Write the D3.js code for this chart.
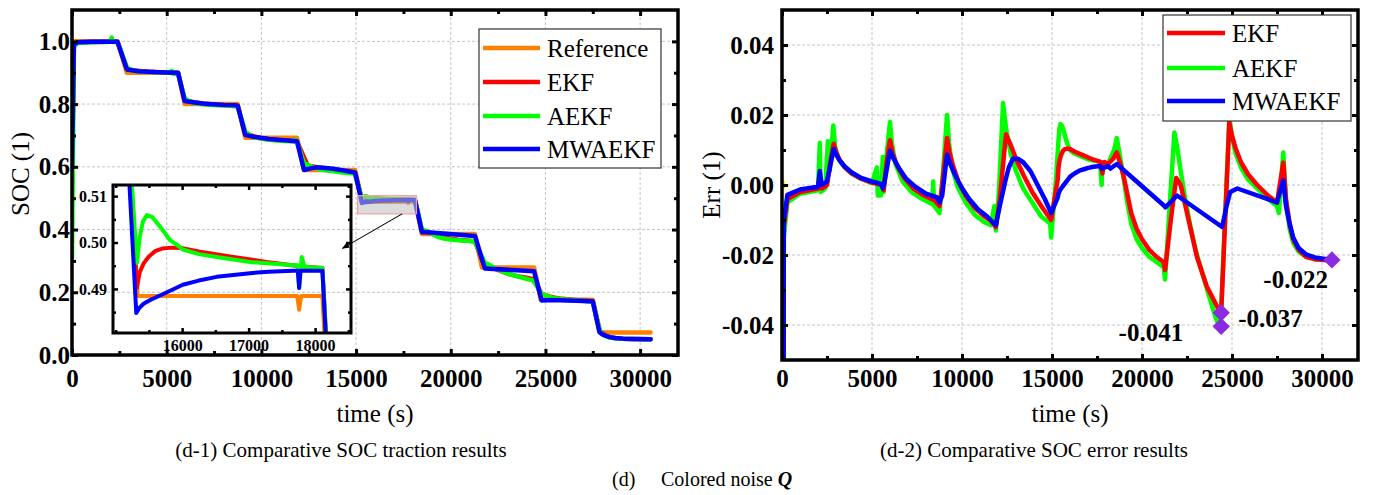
<!DOCTYPE html>
<html><head><meta charset="utf-8">
<script src="https://cdn.jsdelivr.net/npm/d3@7"></script>
<style>
body{margin:0;background:#fff;}
svg text{font-family:"Liberation Serif","Times New Roman",serif;fill:#000;}
</style>
</head><body>
<svg id="c" width="1374" height="495"></svg>
<script>
// ---------------- DATA ----------------
const timeTicks = [0, 5000, 10000, 15000, 20000, 25000, 30000];
const timeMinorTicks = [2500, 7500, 12500, 17500, 22500, 27500];
const socTicks = [0, 0.2, 0.4, 0.6, 0.8, 1.0];
const socTickLabels = ["0.0", "0.2", "0.4", "0.6", "0.8", "1.0"];
const socMinorTicks = [0.1, 0.3, 0.5, 0.7, 0.9];
const errTicks = [-0.04, -0.02, 0, 0.02, 0.04];
const errTickLabels = ["-0.04", "-0.02", "0.00", "0.02", "0.04"];
const errMinorTicks = [-0.03, -0.01, 0.01, 0.03];
const insetXTicks = [16000, 17000, 18000];
const insetXMinorTicks = [15000, 15500, 16500, 17500, 18500];
const insetYTicks = [0.49, 0.50, 0.51];
const insetYTickLabels = ["0.49", "0.50", "0.51"];
const insetYMinorTicks = [0.485, 0.495, 0.505];

const socSeriesNames = ["Reference", "EKF", "AEKF", "MWAEKF"];
const errSeriesNames = ["EKF", "AEKF", "MWAEKF"];

// SOC traction results [time (s), SOC]
const refSOC = [[0,1.0],[2400,1.0],[2900,0.9],[5600,0.9],[5950,0.8],[8750,0.8],[9150,0.693],[11880,0.693],[12250,0.59],[14950,0.59],[15330,0.4885],[17730,0.4885],[17760,0.4855],[17790,0.4885],[18110,0.4885],[18480,0.386],[21280,0.386],[21650,0.279],[24400,0.279],[24750,0.176],[27500,0.176],[27900,0.072],[30550,0.072]];
const ekfSOC = [[0,0.55],[100,0.988],[300,0.996],[1000,0.998],[2000,0.999],[2400,0.9995],[2900,0.9118],[3300,0.907],[4000,0.903],[5000,0.9005],[5600,0.8995],[5950,0.8128],[6400,0.806],[7000,0.801],[7600,0.798],[8400,0.7955],[8750,0.794],[9150,0.7064],[9500,0.699],[10000,0.691],[10500,0.687],[11000,0.6845],[11600,0.6825],[11880,0.681],[12440,0.6045],[13000,0.598],[13500,0.593],[14000,0.588],[14500,0.584],[14950,0.580],[15320,0.4902],[15360,0.4935],[15420,0.4955],[15500,0.4970],[15600,0.4982],[15700,0.4987],[15850,0.4989],[16000,0.4988],[16270,0.498],[16770,0.4969],[17270,0.4958],[17770,0.4949],[18110,0.4945],[18480,0.3953],[19000,0.388],[19400,0.378],[20000,0.3705],[20400,0.3675],[21000,0.3645],[21280,0.3617],[21800,0.281],[22150,0.279],[22500,0.271],[23050,0.2585],[23600,0.250],[24200,0.244],[24400,0.2425],[24800,0.1938],[25200,0.1865],[25500,0.1825],[25900,0.179],[26400,0.176],[27000,0.173],[27500,0.171],[27850,0.0784],[28200,0.061],[28400,0.0565],[28700,0.0535],[29100,0.0515],[29600,0.0508],[30550,0.0504]];
const aekfSOC = [[0,0.31],[100,0.985],[300,0.995],[1000,0.9975],[2000,0.9985],[2100,1.012],[2150,0.998],[2400,0.999],[2900,0.917],[3100,0.908],[3500,0.9045],[4000,0.902],[5000,0.9005],[5270,0.905],[5320,0.897],[5600,0.897],[5950,0.818],[6300,0.806],[6700,0.801],[7200,0.798],[7800,0.796],[8350,0.7945],[8750,0.792],[9150,0.713],[9450,0.698],[9750,0.6925],[10200,0.688],[10700,0.6845],[11200,0.6825],[11600,0.6815],[11800,0.687],[11880,0.680],[12250,0.6134],[12450,0.606],[12700,0.599],[13000,0.594],[13400,0.589],[13900,0.585],[14400,0.581],[14900,0.579],[14950,0.575],[15210,0.52],[15320,0.4956],[15360,0.5010],[15410,0.5045],[15470,0.5059],[15550,0.5055],[15670,0.5034],[15820,0.5005],[15950,0.4992],[16010,0.4985],[16250,0.4975],[16520,0.4969],[17020,0.4958],[17670,0.4951],[17740,0.4951],[17760,0.4902],[17800,0.4969],[17840,0.4948],[18110,0.4945],[18480,0.3994],[18750,0.395],[18950,0.389],[19150,0.382],[19400,0.375],[19700,0.3705],[20000,0.368],[20400,0.3655],[20800,0.364],[21200,0.3625],[21280,0.359],[21800,0.294],[21950,0.290],[22150,0.283],[22400,0.275],[22700,0.267],[23000,0.260],[23400,0.253],[23800,0.246],[24100,0.241],[24350,0.238],[24800,0.195],[25000,0.190],[25200,0.185],[25500,0.181],[25900,0.1775],[26400,0.175],[27000,0.172],[27500,0.170],[27850,0.0813],[28000,0.067],[28200,0.0595],[28400,0.0555],[28700,0.053],[29100,0.0515],[29600,0.0508],[30550,0.0504]];
const mwaekfSOC = [[0,0.60],[100,0.99],[300,0.997],[1000,0.9985],[2000,0.999],[2400,0.999],[2900,0.910],[3500,0.905],[4400,0.902],[5000,0.901],[5600,0.900],[5950,0.8098],[6200,0.8075],[6500,0.8048],[6900,0.8018],[7400,0.7995],[8000,0.7975],[8600,0.7965],[8750,0.795],[9150,0.7017],[9350,0.699],[9600,0.696],[9950,0.6925],[10400,0.689],[10900,0.686],[11400,0.684],[11880,0.6815],[12250,0.59],[12600,0.595],[12830,0.5975],[13100,0.5975],[13400,0.5965],[13800,0.594],[14200,0.590],[14600,0.586],[14950,0.582],[15310,0.4848],[15350,0.4858],[15420,0.4868],[15520,0.4876],[15700,0.4888],[16010,0.4909],[16250,0.4918],[16520,0.4926],[16770,0.4930],[17020,0.4934],[17300,0.4937],[17670,0.4939],[17740,0.4939],[17760,0.4902],[17780,0.4939],[18110,0.4939],[18480,0.3915],[18600,0.392],[21280,0.3796],[21800,0.276],[24400,0.267],[24800,0.174],[25300,0.175],[27500,0.171],[27850,0.073],[28000,0.066],[28200,0.061],[28400,0.057],[28700,0.054],[29100,0.0522],[29600,0.0513],[30550,0.0506]];

// SOC error results [time (s), error]
const ekfErr = [[0,-0.45],[100,-0.012],[300,-0.004],[1000,-0.002],[2000,-0.001],[2100,0.002],[2200,-0.001],[2500,0.0],[2700,0.007],[2870,0.0118],[3000,0.0095],[3200,0.0072],[3500,0.005],[3900,0.0032],[4400,0.0018],[5000,0.0007],[5550,0.0],[5650,-0.0015],[5800,0.006],[6000,0.0128],[6150,0.009],[6400,0.0055],[6800,0.002],[7300,-0.001],[7900,-0.003],[8500,-0.0045],[8750,-0.006],[8900,0.0],[9170,0.0134],[9300,0.0095],[9500,0.0055],[9800,0.001],[10200,-0.003],[10700,-0.0065],[11200,-0.0088],[11600,-0.0102],[11880,-0.012],[12100,-0.004],[12440,0.0145],[12700,0.0115],[13000,0.0075],[13400,0.003],[13900,-0.002],[14400,-0.006],[14950,-0.010],[15320,0.0017],[15360,0.005],[15420,0.007],[15500,0.0085],[15600,0.0097],[15700,0.0102],[15850,0.0104],[16000,0.0103],[16270,0.0095],[16770,0.0084],[17270,0.0073],[17700,0.0066],[17800,0.0033],[17900,0.0066],[18110,0.006],[18400,0.0075],[18600,0.0093],[18800,0.006],[19000,0.002],[19200,-0.003],[19400,-0.008],[19700,-0.0125],[20000,-0.0155],[20400,-0.0185],[20800,-0.0205],[21200,-0.022],[21280,-0.0243],[21600,-0.01],[21900,0.002],[22150,0.0],[22500,-0.008],[23050,-0.0205],[23600,-0.029],[24200,-0.035],[24400,-0.0365],[24850,0.0178],[25000,0.014],[25200,0.0105],[25500,0.0065],[25900,0.003],[26400,0.0],[27000,-0.003],[27500,-0.005],[27850,0.0064],[28000,-0.004],[28200,-0.011],[28400,-0.0155],[28700,-0.0185],[29100,-0.0205],[29600,-0.0212],[30550,-0.0216]];
const aekfErr = [[0,-0.69],[100,-0.015],[300,-0.005],[1000,-0.0025],[2000,-0.0015],[2100,0.012],[2150,-0.002],[2400,-0.001],[2550,0.0125],[2650,0.004],[2850,0.017],[2950,0.011],[3100,0.008],[3400,0.0055],[3800,0.0035],[4400,0.0018],[5000,0.0005],[5270,0.005],[5320,-0.003],[5500,-0.003],[5600,0.008],[5650,-0.002],[5800,0.008],[6000,0.018],[6100,0.012],[6300,0.006],[6700,0.001],[7200,-0.002],[7800,-0.004],[8350,-0.0055],[8400,0.001],[8450,-0.006],[8750,-0.008],[8950,0.004],[9170,0.020],[9280,0.012],[9450,0.005],[9750,-0.0005],[10200,-0.005],[10700,-0.0085],[11200,-0.0105],[11600,-0.0115],[11800,-0.006],[11880,-0.013],[12050,-0.002],[12280,0.0234],[12450,0.016],[12700,0.009],[13000,0.004],[13400,-0.001],[13900,-0.005],[14400,-0.009],[14900,-0.011],[14950,-0.015],[15200,0.0],[15360,0.0125],[15410,0.016],[15470,0.0174],[15550,0.017],[15650,0.0155],[15750,0.0135],[15850,0.0118],[16010,0.0099],[16250,0.009],[16520,0.0084],[17020,0.0073],[17670,0.0066],[17760,0.0],[17800,0.006],[18110,0.006],[18450,0.01],[18600,0.0134],[18750,0.009],[18950,0.003],[19150,-0.004],[19400,-0.011],[19700,-0.0155],[20000,-0.018],[20400,-0.0205],[20800,-0.022],[21200,-0.0235],[21280,-0.027],[21550,-0.005],[21800,0.015],[21950,0.011],[22150,0.004],[22400,-0.004],[22700,-0.012],[23000,-0.019],[23400,-0.026],[23800,-0.033],[24100,-0.038],[24350,-0.041],[24850,0.019],[25000,0.014],[25200,0.009],[25500,0.005],[25900,0.0015],[26400,-0.001],[27000,-0.004],[27500,-0.006],[27600,-0.008],[27850,0.0093],[28000,-0.005],[28200,-0.0125],[28400,-0.0165],[28700,-0.019],[29100,-0.0205],[29600,-0.0212],[30550,-0.0216]];
const mwaekfErr = [[0,-0.40],[100,-0.010],[300,-0.0028],[1000,-0.0013],[2000,-0.0005],[2100,0.004],[2200,0.0],[2500,0.001],[2700,0.006],[2870,0.0103],[3000,0.0088],[3200,0.007],[3500,0.0052],[3900,0.0035],[4400,0.002],[5000,0.001],[5500,0.0003],[5600,-0.001],[5700,0.001],[6000,0.0098],[6200,0.0075],[6500,0.0048],[6900,0.0018],[7400,-0.0005],[8000,-0.0025],[8600,-0.0035],[8750,-0.005],[8900,-0.003],[9170,0.0087],[9350,0.006],[9600,0.003],[9950,-0.0005],[10400,-0.004],[10900,-0.007],[11400,-0.009],[11880,-0.0115],[12100,-0.006],[12400,0.001],[12600,0.005],[12830,0.0075],[13100,0.0075],[13400,0.0065],[13800,0.004],[14200,0.0],[14600,-0.004],[14950,-0.008],[15310,-0.0037],[15350,-0.0027],[15420,-0.0017],[15520,-0.0009],[15700,0.0003],[16010,0.0024],[16250,0.0033],[16520,0.0041],[16770,0.0045],[17020,0.0049],[17300,0.0052],[17670,0.0054],[17760,0.0047],[18110,0.0054],[18250,0.0047],[18600,0.006],[21200,-0.0058],[21300,-0.0064],[21950,-0.003],[24450,-0.012],[24700,-0.006],[24900,-0.002],[25300,-0.001],[27500,-0.005],[27850,0.0013],[28000,-0.006],[28200,-0.011],[28400,-0.015],[28700,-0.018],[29100,-0.0198],[29600,-0.0207],[30550,-0.0214]];
const startMarker = [[0, 0]];

// highlighted zoom window on the SOC plot [t0, t1, soc0, soc1]
const zoomWindow = [15080, 18190, 0.450, 0.508];

// annotated error values
const annotTimes = [24400, 24400, 30550];
const annotValues = [-0.0365, -0.0404, -0.0214];
const annotLabels = ["-0.037", "-0.041", "-0.022"];

// ---------------- DRAW ----------------
const svg = d3.select("#c");
const FONT = '"Liberation Serif","Times New Roman",serif';
const seriesColor = {"Reference":"#ff8000","EKF":"#ff0000","AEKF":"#00ff00","MWAEKF":"#0000ff"};

function grid(g, x, y, xt, yt) {
  const [x0, x1] = x.range(), [y0, y1] = y.range();
  const gg = g.append("g");
  gg.selectAll(".gx").data(xt).join("line")
    .attr("x1", d => x(d)).attr("x2", d => x(d)).attr("y1", y0).attr("y2", y1)
    .attr("stroke", "#c4c4c4").attr("stroke-width", 1).attr("stroke-dasharray", "3,2");
  gg.selectAll(".gy").data(yt).join("line")
    .attr("y1", d => y(d)).attr("y2", d => y(d)).attr("x1", x0).attr("x2", x1)
    .attr("stroke", "#c4c4c4").attr("stroke-width", 1).attr("stroke-dasharray", "3,2");
}

function frame(g, x, y, o) {
  const [x0, x1] = x.range(), [y0, y1] = y.range();
  const W = x1 - x0, H = y0 - y1;
  const tickStyle = s => { s.select(".domain").remove(); s.selectAll(".tick line").attr("stroke", "#000").attr("stroke-width", o.tw); };
  const lab = s => s.attr("font-family", FONT).attr("font-size", o.fs).attr("font-weight", "bold");
  g.append("g").attr("transform", `translate(0,${y0})`)
    .call(d3.axisBottom(x).tickValues(o.xt).tickSize(-o.maj).tickPadding(o.xpad).tickFormat(o.xf))
    .call(tickStyle).call(lab);
  g.append("g").attr("transform", `translate(0,${y0})`)
    .call(d3.axisBottom(x).tickValues(o.xm).tickSize(-o.min).tickFormat("")).call(tickStyle);
  g.append("g").attr("transform", `translate(0,${y1})`)
    .call(d3.axisTop(x).tickValues(o.xt).tickSize(-o.maj).tickFormat("")).call(tickStyle);
  g.append("g").attr("transform", `translate(0,${y1})`)
    .call(d3.axisTop(x).tickValues(o.xm).tickSize(-o.min).tickFormat("")).call(tickStyle);
  g.append("g").attr("transform", `translate(${x0},0)`)
    .call(d3.axisLeft(y).tickValues(o.yt).tickSize(-o.maj).tickPadding(o.ypad).tickFormat((d, i) => o.yl[i]))
    .call(tickStyle).call(lab);
  g.append("g").attr("transform", `translate(${x0},0)`)
    .call(d3.axisLeft(y).tickValues(o.ym).tickSize(-o.min).tickFormat("")).call(tickStyle);
  g.append("g").attr("transform", `translate(${x1},0)`)
    .call(d3.axisRight(y).tickValues(o.yt).tickSize(-o.maj).tickFormat("")).call(tickStyle);
  g.append("g").attr("transform", `translate(${x1},0)`)
    .call(d3.axisRight(y).tickValues(o.ym).tickSize(-o.min).tickFormat("")).call(tickStyle);
  g.append("rect").attr("x", x0).attr("y", y1).attr("width", W).attr("height", H)
    .attr("fill", "none").attr("stroke", "#000").attr("stroke-width", o.fw);
}

function clip(id, x, y) {
  const [x0, x1] = x.range(), [y0, y1] = y.range();
  svg.append("clipPath").attr("id", id).append("rect")
    .attr("x", x0).attr("y", y1).attr("width", x1 - x0).attr("height", y0 - y1);
}

function drawLines(g, x, y, series, names, w) {
  const line = d3.line().x(d => x(d[0])).y(d => y(d[1]));
  series.forEach((s, i) => {
    g.append("path").datum(s).attr("d", line).attr("fill", "none")
      .attr("stroke", seriesColor[names[i]]).attr("stroke-width", w)
      .attr("stroke-linejoin", "round").attr("stroke-linecap", "round");
  });
}

function legend(items, bx, by, bw, bh, lx0, lx1, ys) {
  const g = svg.append("g");
  g.append("rect").attr("x", bx).attr("y", by).attr("width", bw).attr("height", bh)
    .attr("fill", "#fff").attr("stroke", "#333").attr("stroke-width", 1.2);
  items.forEach((n, i) => {
    g.append("line").attr("x1", lx0).attr("x2", lx1).attr("y1", ys[i]).attr("y2", ys[i])
      .attr("stroke", seriesColor[n]).attr("stroke-width", 4.5);
    g.append("text").attr("x", lx1 + 7).attr("y", ys[i]).attr("dy", "0.35em")
      .attr("font-size", 25).text(n);
  });
}

// ---------- Left panel ----------
const xL = d3.scaleLinear().domain([0, 32000]).range([72, 678]);
const yL = d3.scaleLinear().domain([0, 1.1]).range([355, 10]);
const gL = svg.append("g");
grid(gL, xL, yL, timeTicks, socTicks);
clip("clipL", xL, yL);
const linesL = gL.append("g").attr("clip-path", "url(#clipL)");
drawLines(linesL, xL, yL, [refSOC, ekfSOC, aekfSOC, mwaekfSOC], socSeriesNames, 4.5);

gL.append("rect").attr("x", xL(zoomWindow[0])).attr("y", yL(zoomWindow[3]))
  .attr("width", xL(zoomWindow[1]) - xL(zoomWindow[0])).attr("height", yL(zoomWindow[2]) - yL(zoomWindow[3]))
  .attr("fill", "rgba(190,190,190,0.55)").attr("stroke", "#f4a0a0").attr("stroke-width", 1.2);
svg.append("defs").append("marker").attr("id", "arr").attr("viewBox", "0 0 10 10")
  .attr("refX", 9).attr("refY", 5).attr("markerWidth", 7).attr("markerHeight", 7).attr("orient", "auto")
  .append("path").attr("d", "M0,1 L10,5 L0,9 z").attr("fill", "#000");
gL.append("line").attr("x1", xL(17430)).attr("y1", yL(0.450))
  .attr("x2", xL(14280)).attr("y2", yL(0.340))
  .attr("stroke", "#000").attr("stroke-width", 1.1).attr("marker-end", "url(#arr)");

// inset
const xI = d3.scaleLinear().domain([14960, 18540]).range([113, 351]);
const yI = d3.scaleLinear().domain([0.4805, 0.5124]).range([333, 185]);
const gI = svg.append("g");
clip("clipI", xI, yI);
const linesI = gI.append("g").attr("clip-path", "url(#clipI)");
drawLines(linesI, xI, yI, [refSOC, ekfSOC, aekfSOC, mwaekfSOC], socSeriesNames, 4);
frame(gI, xI, yI, {xt: insetXTicks, xm: insetXMinorTicks, yt: insetYTicks, ym: insetYMinorTicks,
  yl: insetYTickLabels, xf: d => d, maj: 5, min: 3, tw: 2.5, fw: 3, fs: 16, xpad: 7, ypad: 6});

frame(gL, xL, yL, {xt: timeTicks, xm: timeMinorTicks, yt: socTicks, ym: socMinorTicks,
  yl: socTickLabels, xf: d => d, maj: 6, min: 4, tw: 3, fw: 3.5, fs: 25, xpad: 14, ypad: 2});

legend(socSeriesNames, 479, 29, 182, 139, 483, 540, [48, 82, 116, 149]);

svg.append("text").attr("transform", "translate(29,174) rotate(-90)").attr("text-anchor", "middle")
  .attr("font-size", 25).text("SOC (1)");
svg.append("text").attr("x", 375).attr("y", 422).attr("text-anchor", "middle")
  .attr("font-size", 25).text("time (s)");
svg.append("text").attr("x", 341).attr("y", 457).attr("text-anchor", "middle")
  .attr("font-size", 21).text("(d-1) Comparative SOC traction results");

// ---------- Right panel ----------
const xR = d3.scaleLinear().domain([0, 32000]).range([782, 1358]);
const yR = d3.scaleLinear().domain([-0.05, 0.05]).range([360, 10]);
const gR = svg.append("g");
grid(gR, xR, yR, timeTicks, errTicks);
clip("clipR", xR, yR);
const linesR = gR.append("g").attr("clip-path", "url(#clipR)");
drawLines(linesR, xR, yR, [aekfErr, ekfErr, mwaekfErr], ["AEKF", "EKF", "MWAEKF"], 4.5);
linesR.selectAll(".sm").data(startMarker).join("rect")
  .attr("x", d => xR(d[0]) - 1).attr("y", d => yR(d[1]) - 4).attr("width", 4).attr("height", 8)
  .attr("fill", "#ffee00");

frame(gR, xR, yR, {xt: timeTicks, xm: timeMinorTicks, yt: errTicks, ym: errMinorTicks,
  yl: errTickLabels, xf: d => d, maj: 6, min: 4, tw: 3, fw: 3.5, fs: 25, xpad: 9, ypad: 8});

const annDx = [17, -38, -4], annDy = [14, 15, 28], annAnchor = ["start", "end", "end"];
annotTimes.forEach((t, i) => {
  const px = xR(t), py = yR(annotValues[i]);
  svg.append("path").attr("d", d3.symbol(d3.symbolSquare, 150)())
    .attr("transform", `translate(${px},${py}) rotate(45)`).attr("fill", "#8a2be2");
  svg.append("text").attr("x", px + annDx[i]).attr("y", py + annDy[i]).attr("text-anchor", annAnchor[i])
    .attr("font-size", 25).attr("font-weight", "bold").text(annotLabels[i]);
});

legend(errSeriesNames, 1163, 15, 188, 106, 1167, 1225, [33, 68, 101]);

svg.append("text").attr("transform", "translate(720,185) rotate(-90)").attr("text-anchor", "middle")
  .attr("font-size", 25).text("Err (1)");
svg.append("text").attr("x", 1070).attr("y", 422).attr("text-anchor", "middle")
  .attr("font-size", 25).text("time (s)");
svg.append("text").attr("x", 1034).attr("y", 457).attr("text-anchor", "middle")
  .attr("font-size", 21).text("(d-2) Comparative SOC error results");

svg.append("text").attr("x", 612).attr("y", 486).attr("font-size", 20).text("(d)");
const cap = svg.append("text").attr("x", 661).attr("y", 486).attr("font-size", 20);
cap.append("tspan").text("Colored noise ");
cap.append("tspan").attr("font-weight", "bold").attr("font-style", "italic").text("Q");
</script>
</body></html>
